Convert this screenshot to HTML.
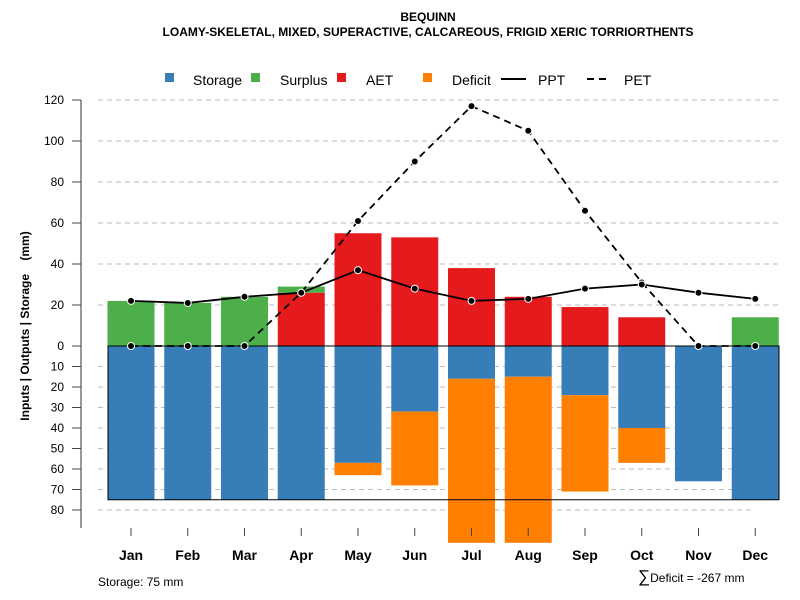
<!DOCTYPE html>
<html><head><meta charset="utf-8"><style>
body{margin:0;background:#fff;}
svg{display:block;font-family:"Liberation Sans",sans-serif;}
</style></head><body>
<svg id="chart" width="800" height="600">
<text x="428" y="21" text-anchor="middle" font-size="12" font-weight="bold">BEQUINN</text>
<text x="428" y="36" text-anchor="middle" font-size="12" font-weight="bold">LOAMY-SKELETAL, MIXED, SUPERACTIVE, CALCAREOUS, FRIGID XERIC TORRIORTHENTS</text>
<g font-size="14">
<g><rect x="165" y="73" width="9" height="9" fill="#377eb8"/><text x="193" y="85">Storage</text></g>
<g><rect x="251" y="73" width="9" height="9" fill="#4daf4a"/><text x="280" y="85">Surplus</text></g>
<g><rect x="337" y="73" width="9" height="9" fill="#e41a1c"/><text x="366" y="85">AET</text></g>
<g><rect x="423" y="73" width="9" height="9" fill="#ff7f00"/><text x="452" y="85">Deficit</text></g>
<g><line x1="501" y1="79" x2="526" y2="79" stroke="#000" stroke-width="2"/><text x="538" y="85">PPT</text></g>
<g><line x1="587" y1="79" x2="609" y2="79" stroke="#000" stroke-width="2" stroke-dasharray="7,5"/><text x="624" y="85">PET</text></g>
</g>
<text transform="translate(29,326) rotate(-90)" text-anchor="middle" font-size="12" font-weight="bold" xml:space="preserve" style="white-space:pre">Inputs | Outputs | Storage    (mm)</text>
<text x="98" y="586" font-size="12">Storage: 75 mm</text>
<text x="638" y="582" font-size="12"><tspan font-size="17">∑</tspan>Deficit = -267 mm</text>
<g id="plot"></g>
</svg>
<script>
const months=["Jan","Feb","Mar","Apr","May","Jun","Jul","Aug","Sep","Oct","Nov","Dec"];
const storage=[75,75,75,75,57,32,16,15,24,40,66,75];
const deficit=[0,0,0,0,6,36,80,81,47,17,0,0];
const aet=[0,0,0,26,55,53,38,24,19,14,0,0];
const surplus=[22,21,24,3,0,0,0,0,0,0,0,14];
const ppt=[22,21,24,26,37,28,22,23,28,30,26,23];
const pet=[0,0,0,26,61,90,117,105,66,31,0,0];
const posTicks=[0,20,40,60,80,100,120];
const negTicks=[10,20,30,40,50,60,70,80];
const capacity=75;
const NS="http://www.w3.org/2000/svg";
const g=document.getElementById('plot');
const y0=346,k=2.05;
const yP=v=>y0-v*k;
const yN=v=>y0+v*k;
const xC=i=>131+i*56.75;
const bw=47;
const bottom=543;
function el(t,a,parent){const e=document.createElementNS(NS,t);for(const n in a)e.setAttribute(n,a[n]);(parent||g).appendChild(e);return e;}
posTicks.forEach(v=>{if(v===0)return;const l=el('line',{x1:98,x2:779,y1:yP(v),y2:yP(v),stroke:'#bbb','stroke-dasharray':'5,4'});

});
negTicks.forEach(v=>{const l=el('line',{x1:98,x2:755,y1:yN(v),y2:yN(v),stroke:'#bbb','stroke-dasharray':'5,4'});

});
months.forEach((m,i)=>{
 const x=xC(i)-bw/2;
 let r=el('rect',{x:x,y:y0,width:bw,height:storage[i]*k,fill:'#377eb8'});
 
 
 if(deficit[i]>0){const top=yN(storage[i]);const bot=Math.min(yN(storage[i]+deficit[i]),bottom);
 r=el('rect',{x:x,y:top,width:bw,height:bot-top,fill:'#ff7f00'});
 
 }
 if(aet[i]>0){r=el('rect',{x:x,y:yP(aet[i]),width:bw,height:aet[i]*k,fill:'#e41a1c'});
 
 }
 if(surplus[i]>0){r=el('rect',{x:x,y:yP(aet[i]+surplus[i]),width:bw,height:surplus[i]*k,fill:'#4daf4a'});
 
 }
});
const box=el('rect',{x:108,y:y0,width:671,height:capacity*k,fill:'none',stroke:'#000','stroke-width':1});


const petL=el('polyline',{points:pet.map((v,i)=>xC(i)+','+yP(v)).join(' '),fill:'none',stroke:'#000','stroke-width':1.8,'stroke-dasharray':'7,5'});


const pptL=el('polyline',{points:ppt.map((v,i)=>xC(i)+','+yP(v)).join(' '),fill:'none',stroke:'#000','stroke-width':1.8});


[pet,ppt].forEach((s,j)=>s.forEach((v,i)=>{const c=el('circle',{cx:xC(i),cy:yP(v),r:3.5,fill:'#000',stroke:'#fff','stroke-width':1});

}));
const ax=el('line',{x1:81,x2:81,y1:100,y2:528,stroke:'#777','stroke-width':1.5});


posTicks.forEach(v=>{el('line',{x1:72,x2:81,y1:yP(v),y2:yP(v),stroke:'#444'});
const t=el('text',{x:64,y:yP(v)+4,'text-anchor':'end','font-size':12});t.textContent=v;

});
negTicks.forEach(v=>{el('line',{x1:72,x2:81,y1:yN(v),y2:yN(v),stroke:'#444'});
const t=el('text',{x:64,y:yN(v)+4,'text-anchor':'end','font-size':12});t.textContent=v;

});
months.forEach((m,i)=>{el('line',{x1:xC(i),x2:xC(i),y1:528,y2:536,stroke:'#444'});
const t=el('text',{x:xC(i),y:560,'text-anchor':'middle','font-size':14,'font-weight':'bold'});t.textContent=m;

});
</script>
</body></html>
